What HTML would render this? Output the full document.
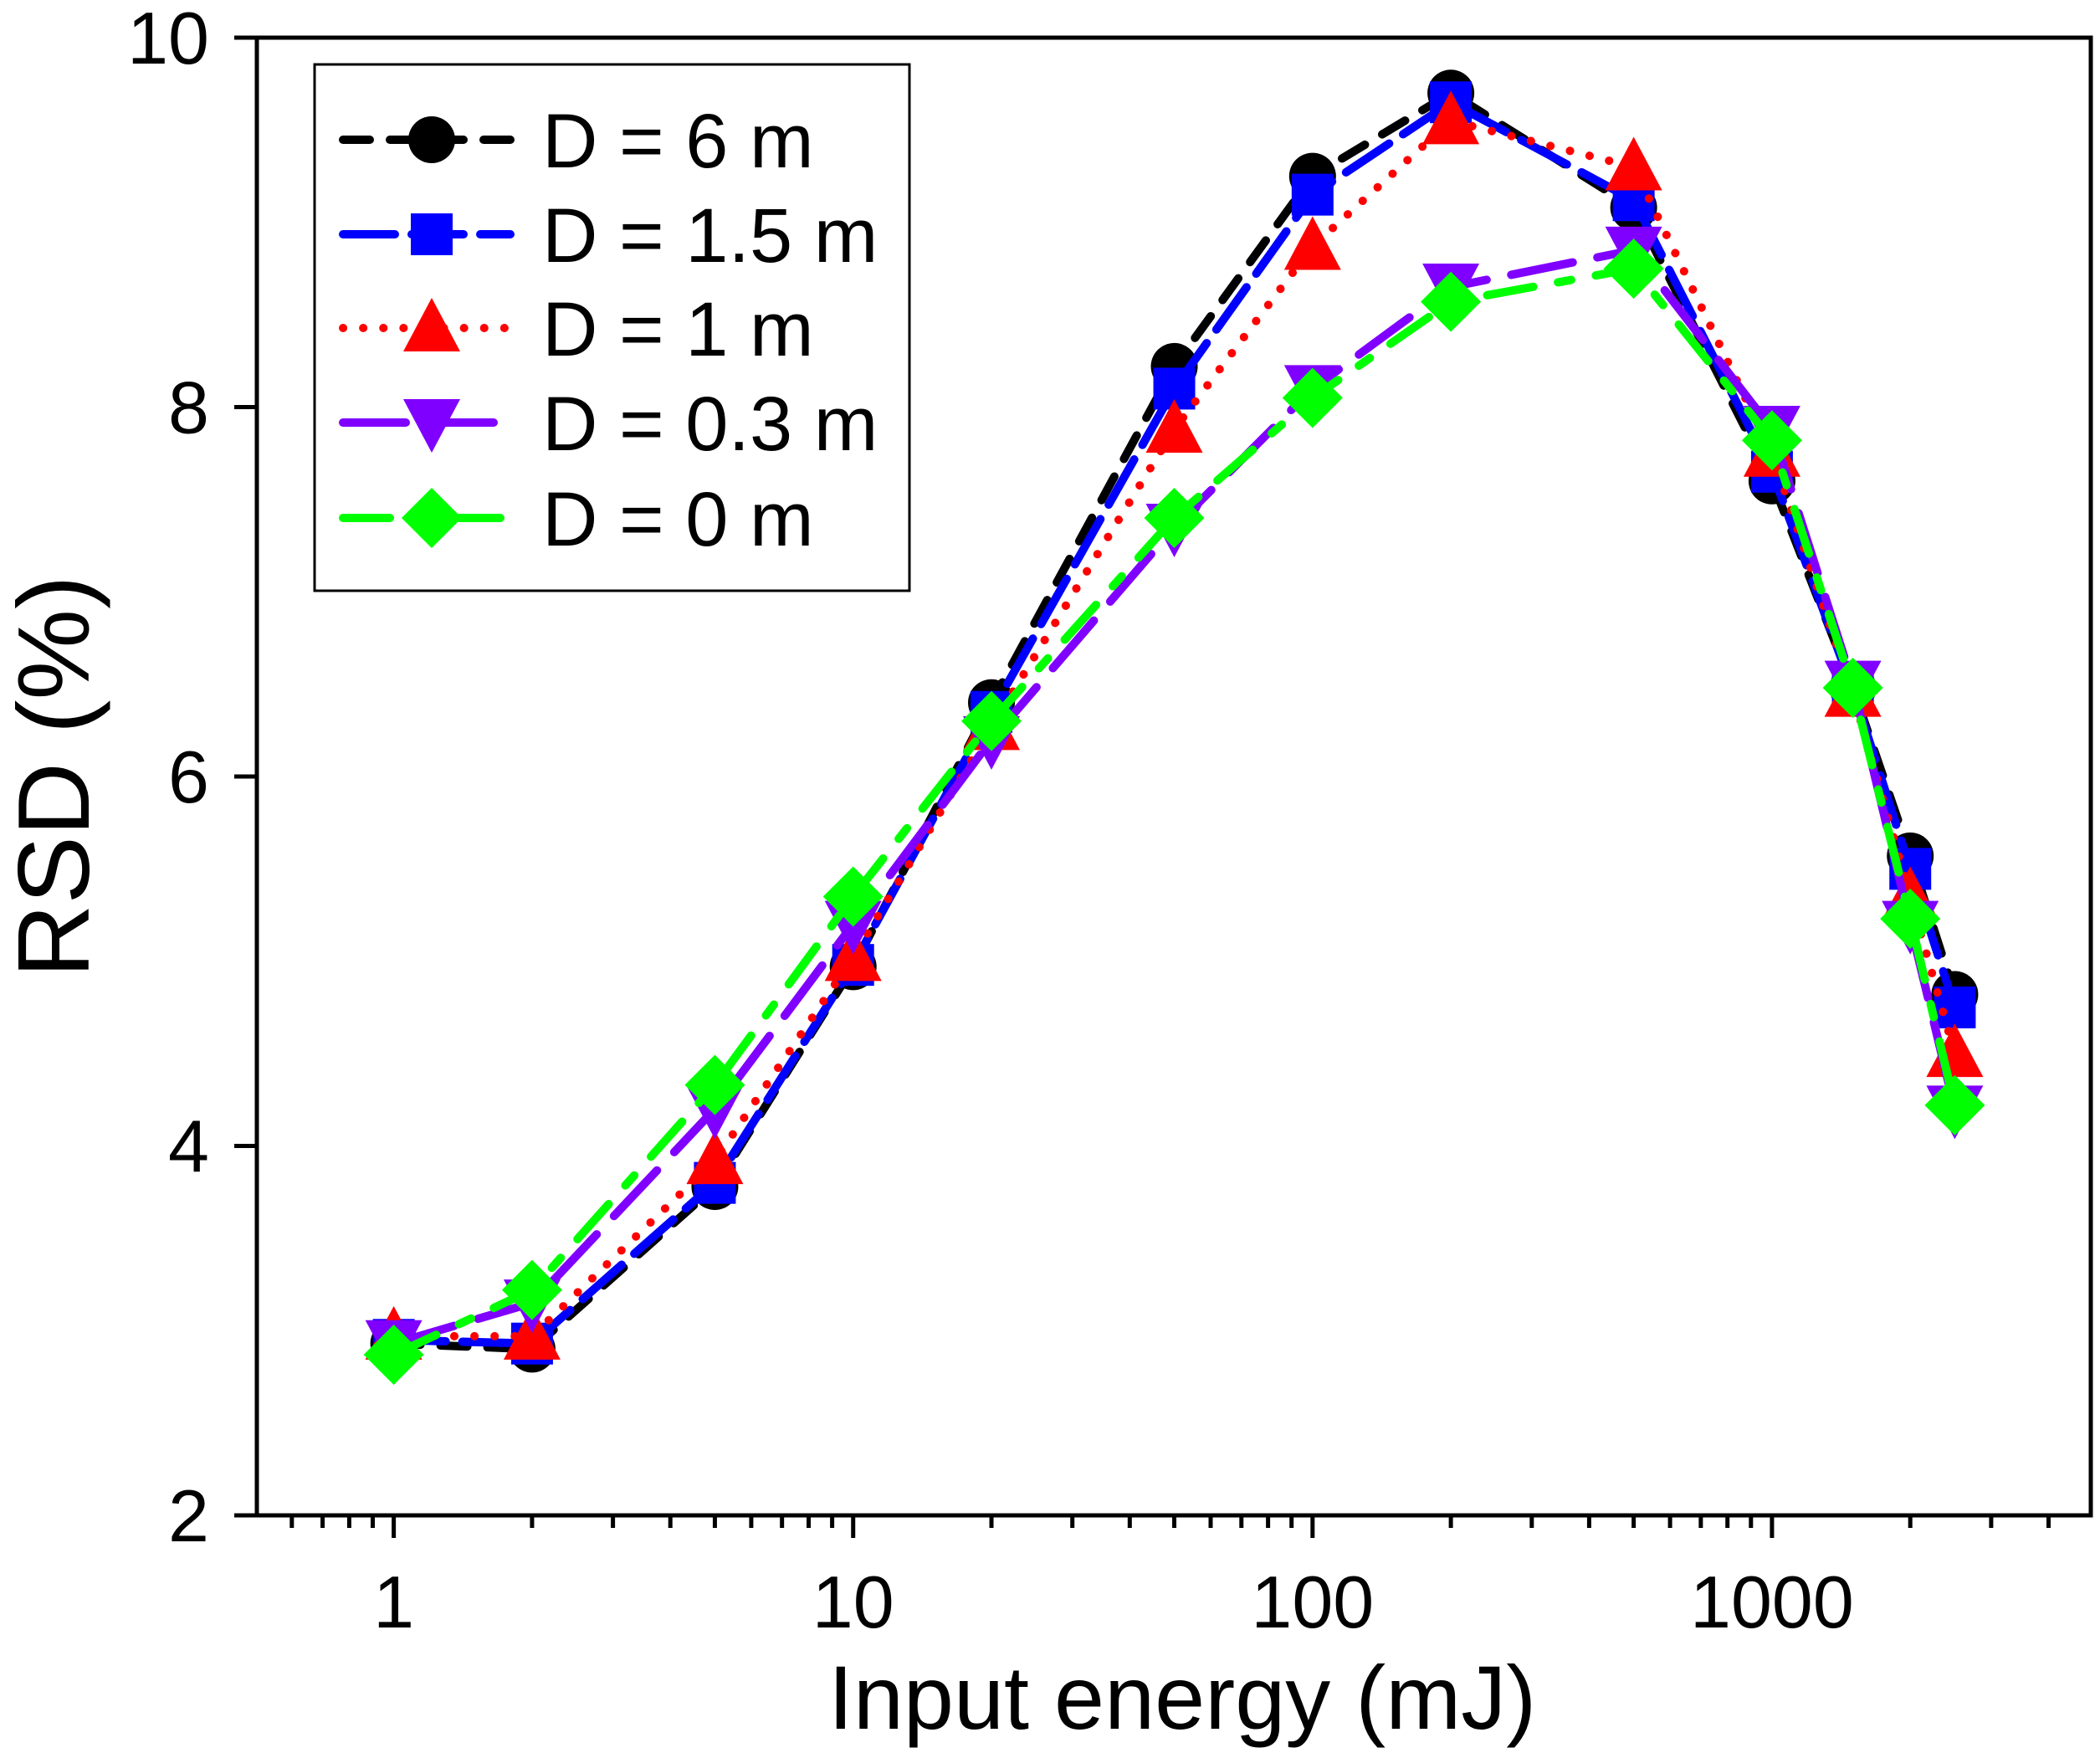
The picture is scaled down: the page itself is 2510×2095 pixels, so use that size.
<!DOCTYPE html>
<html><head><meta charset="utf-8"><style>
html,body{margin:0;padding:0;background:#fff;}
svg{display:block;font-family:"Liberation Sans",Arial,sans-serif;}
</style></head><body>
<svg id="chart" width="2510" height="2095" viewBox="0 0 2510 2095" xmlns="http://www.w3.org/2000/svg">
<rect x="0" y="0" width="2510" height="2095" fill="#fff"/>
<g id="series"></g>
<g id="axes"></g>
<g id="legend"></g>
</svg>
<script>
const energies = [1,2,5,10,20,50,100,200,500,1000,1500,2000,2500];
const rsd6 = [2.93,2.9,3.78,4.97,6.4,8.22,9.25,9.7,9.08,7.6,6.48,5.57,4.82];
const rsd15 = [2.95,2.93,3.8,4.98,6.35,8.1,9.15,9.65,9.12,7.65,6.47,5.5,4.75];
const rsd1 = [2.97,2.97,3.92,5.02,6.27,7.88,8.87,9.55,9.3,7.75,6.45,5.35,4.5];
const rsd03 = [2.93,3.15,4.2,5.2,6.2,7.35,8.1,8.65,8.85,7.88,6.5,5.2,4.2];
const rsd0 = [2.87,3.22,4.33,5.35,6.3,7.4,8.05,8.57,8.75,7.82,6.48,5.23,4.22];
const seriesLabels = ["D = 6 m","D = 1.5 m","D = 1 m","D = 0.3 m","D = 0 m"];
const xTickLabels = ["1","10","100","1000"];
const yTickLabels = ["2","4","6","8","10"];

const NS="http://www.w3.org/2000/svg";
const L=307,R=2499,T=45,B=1811;
const xMinLog=-0.298, xMaxLog=3.694;
function sx(v){return L+(Math.log10(v)-xMinLog)/(xMaxLog-xMinLog)*(R-L);}
function sy(v){return B-(v-2)/(10-2)*(B-T);}
function mk(tag,attrs,parent){const e=document.createElementNS(NS,tag);for(const k in attrs)e.setAttribute(k,attrs[k]);parent.appendChild(e);return e;}

const styles=[
 {data:rsd6,color:"#000000",dash:"32 24",marker:"circle",name:"series-d-6m"},
 {data:rsd15,color:"#0000ff",dash:"62 20",marker:"square",name:"series-d-1-5m"},
 {data:rsd1,color:"#ff0000",dash:"0.1 24",marker:"triangle",name:"series-d-1m"},
 {data:rsd03,color:"#8000ff",dash:"75 30",marker:"tridown",name:"series-d-0-3m"},
 {data:rsd0,color:"#00ff00",dash:"56 30 16 30",marker:"diamond",name:"series-d-0m"}
];
function marker(g,type,x,y,color){
  let e;
  if(type==="circle") e=mk("circle",{cx:x,cy:y,r:28,fill:color},g);
  else if(type==="square") e=mk("rect",{x:x-25,y:y-25,width:50,height:50,fill:color},g);
  else if(type==="triangle") e=mk("polygon",{points:`${x},${y-36} ${x+34},${y+28} ${x-34},${y+28}`,fill:color},g);
  else if(type==="tridown") e=mk("polygon",{points:`${x},${y+36} ${x+34},${y-28} ${x-34},${y-28}`,fill:color},g);
  else e=mk("polygon",{points:`${x},${y-36} ${x+36},${y} ${x},${y+36} ${x-36},${y}`,fill:color},g);
  
  
}
const sg=document.getElementById("series");
styles.forEach(s=>{
  const g=mk("g",{},sg);
  
  
  const pts=energies.map((e,i)=>sx(e)+","+sy(s.data[i])).join(" ");
  const pl=mk("polyline",{points:pts,fill:"none",stroke:s.color,"stroke-width":10,"stroke-dasharray":s.dash,"stroke-linecap":"round","stroke-linejoin":"round"},g);
  
  
  energies.forEach((e,i)=>marker(g,s.marker,sx(e),sy(s.data[i]),s.color));
});

const ag=document.getElementById("axes");
const frame=mk("rect",{x:L,y:T,width:R-L,height:B-T,fill:"none",stroke:"#000","stroke-width":5},ag);


for(let d=-1;d<=3;d++){
  for(let m=1;m<=9;m++){
    const v=m*Math.pow(10,d);
    const lg=Math.log10(v);
    if(lg<xMinLog-0.001||lg>xMaxLog) continue;
    const x=sx(v), len=(m===1)?27:15;
    const t=mk("line",{x1:x,y1:B,x2:x,y2:B+len,stroke:"#000","stroke-width":5},ag);
    
    
  }
}
xTickLabels.forEach(lab=>{
  const t=mk("text",{x:sx(parseFloat(lab)),y:1945,"font-size":88,"text-anchor":"middle"},ag);
  t.textContent=lab;
  
  
});
yTickLabels.forEach(lab=>{
  const y=sy(parseFloat(lab));
  const tk=mk("line",{x1:L-27,y1:y,x2:L,y2:y,stroke:"#000","stroke-width":5},ag);
  
  
  const t=mk("text",{x:250,y:y+31,"font-size":88,"text-anchor":"end"},ag);
  t.textContent=lab;
  
  
});
const xt=mk("text",{x:(L+R)/2+10,y:2066,"font-size":108,"text-anchor":"middle"},ag);
xt.textContent="Input energy (mJ)";


const yt=mk("text",{x:0,y:0,"font-size":122,"text-anchor":"middle",transform:"translate(106,928) rotate(-90)"},ag);
yt.textContent="RSD (%)";



const lg=document.getElementById("legend");
const box=mk("rect",{x:376,y:77,width:711,height:629,fill:"#fff",stroke:"#000","stroke-width":3},lg);


const rows=[167,280,392,505,619];
styles.forEach((s,i)=>{
  const g=mk("g",{},lg);
  
  
  const y=rows[i];
  mk("line",{x1:410,y1:y,x2:610,y2:y,stroke:s.color,"stroke-width":10,"stroke-dasharray":s.dash,"stroke-linecap":"round"},g);
  marker(g,s.marker,516,y,s.color);
  const t=mk("text",{x:648,y:y+33,"font-size":92},g);
  t.textContent=seriesLabels[i];
  
  
});
</script>
</body></html>
